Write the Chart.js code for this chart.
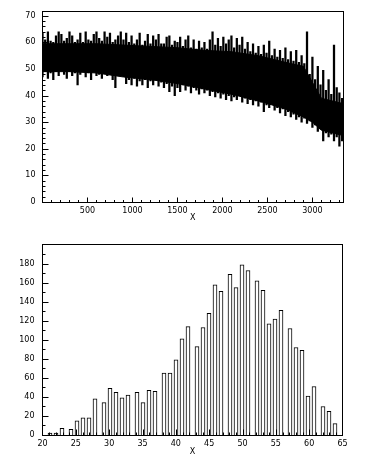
<!DOCTYPE html>
<html lang="en">
<head>
<meta charset="UTF-8">
<title>Graph and histogram of X</title>
<style>
  html, body { margin: 0; padding: 0; background: #fff; }
  #wrap { position: relative; width: 387px; height: 465px; }
  canvas { position: absolute; left: 0; }
  #graphCanvas { top: 0; }
  #histCanvas { top: 232px; }
</style>
</head>
<body>
<div id="wrap">
  <canvas id="graphCanvas" width="387" height="232"></canvas>
  <canvas id="histCanvas" width="387" height="233"></canvas>
</div>
<script src="https://cdn.jsdelivr.net/npm/chart.js"></script>
<script>
// Top graph: the trace is far too dense to read point by point, so it is kept as
// the solid core of the band plus the highest / lowest excursions, read every 30 units
const graphX = [
  0, 30, 60, 90, 120, 150, 180, 210, 240, 270,
  300, 330, 360, 390, 420, 450, 480, 510, 540, 570,
  600, 630, 660, 690, 720, 750, 780, 810, 840, 870,
  900, 930, 960, 990, 1020, 1050, 1080, 1110, 1140, 1170,
  1200, 1230, 1260, 1290, 1320, 1350, 1380, 1410, 1440, 1470,
  1500, 1530, 1560, 1590, 1620, 1650, 1680, 1710, 1740, 1770,
  1800, 1830, 1860, 1890, 1920, 1950, 1980, 2010, 2040, 2070,
  2100, 2130, 2160, 2190, 2220, 2250, 2280, 2310, 2340, 2370,
  2400, 2430, 2460, 2490, 2520, 2550, 2580, 2610, 2640, 2670,
  2700, 2730, 2760, 2790, 2820, 2850, 2880, 2910, 2940, 2970,
  3000, 3030, 3060, 3090, 3120, 3150, 3180, 3210, 3240, 3270,
  3300, 3330
];
const graphHigh = [
  63.5, 61, 64, 60.5, 60, 62.5, 64, 63, 60.5, 61.5,
  64, 62.5, 60, 61, 63.5, 60, 64, 61, 60.5, 63,
  64, 61.5, 60.5, 64, 62, 63.5, 60, 61, 62.5, 64,
  61, 63.5, 60, 62.5, 59.5, 61, 63.5, 59, 60.5, 63,
  59.5, 62.5, 61, 63, 59.5, 59.5, 62, 62.5, 59, 60.5,
  60, 62, 58.5, 61, 62.5, 58, 61, 57.5, 60.5, 58,
  60, 57.5, 61, 64, 59, 61.5, 58.5, 62, 59.5, 61,
  62.5, 58, 61.5, 59, 62, 57.5, 60, 56.5, 59.5, 56,
  58.5, 55.5, 59, 56, 60.5, 55, 57.5, 54.5, 57, 54,
  58, 53.5, 56.5, 53, 57, 52.5, 55, 52, 64, 48,
  54.5, 46, 51, 44, 49.5, 42, 46, 40.5, 59, 43,
  41, 39
];
const graphLow = [
  47, 49, 46.5, 48.5, 46, 49, 47.5, 49.5, 48, 46.5,
  49, 47.5, 48.5, 44, 48, 49.5, 47, 48.5, 46, 49,
  47.5, 48, 46.5, 49, 47.5, 48, 46, 43, 48.5, 47.5,
  49, 44.5, 46, 44, 46.5, 43.5, 45.5, 44, 46, 43,
  45.5, 44, 46, 43.5, 45, 43, 44.5, 41.5, 43.5, 40,
  43, 41.5, 44, 42, 43.5, 41, 43, 42, 40.5, 42.5,
  41, 42, 40, 41.5, 39.5, 41, 39, 40.5, 38.5, 40,
  38, 39.5, 38.5, 40, 37.5, 39, 37, 38.5, 36.5, 38,
  36, 37.5, 34, 36.5, 35.5, 37, 34.5, 35.5, 33.5, 35,
  32.5, 34, 32, 33, 31, 32, 30, 31.5, 29.5, 30.5,
  28, 29, 26.5, 27.5, 23, 26, 24.5, 25.5, 23, 24.5,
  21, 23
];
// solid core of the band
const coreX = [0, 300, 600, 900, 1200, 1500, 1800, 2100, 2400, 2700, 2900, 3000, 3100, 3340];
const coreTop = [59.5, 59.5, 59.5, 59, 58.5, 58, 57, 56.5, 55, 52.5, 51, 45, 39, 37];
const coreBottom = [49, 49, 48.5, 47, 46, 44.5, 42.5, 40.5, 38, 35, 32, 30, 27, 25];
const graphXTicks = [500, 1000, 1500, 2000, 2500, 3000];

// Bottom histogram: 100 bins from 20 to 65, contents
const histMin = 20;
const histMax = 65;
const binContent = [
  0, 0, 2, 0, 2, 0, 7, 0, 0, 6,
  0, 15, 0, 18, 0, 18, 0, 38, 0, 0,
  34, 0, 49, 0, 45, 0, 39, 0, 42, 0,
  0, 45, 0, 34, 0, 47, 0, 46, 0, 0,
  65, 0, 65, 0, 79, 0, 101, 0, 114, 0,
  0, 93, 0, 113, 0, 128, 0, 158, 0, 151,
  0, 0, 169, 0, 155, 0, 179, 0, 173, 0,
  0, 162, 0, 152, 0, 117, 0, 122, 0, 131,
  0, 0, 112, 0, 92, 0, 89, 0, 41, 0,
  51, 0, 0, 30, 0, 25, 0, 12, 0, 0
];

const labelFont = { family: 'DejaVu Sans', size: 8 };

// ROOT style frame with ticks drawn on the inside
const rootFrame = {
  id: 'rootFrame',
  afterDraw(chart, args, o) {
    const { ctx, chartArea: a, scales: { x, y } } = chart;
    const L = Math.floor(a.left) + 0.5, R = Math.floor(a.right) + 0.5;
    const T = Math.floor(a.top) + 0.5, B = Math.floor(a.bottom) + 0.5;
    ctx.save();
    ctx.strokeStyle = '#000';
    ctx.lineWidth = 1;
    ctx.strokeRect(L, T, R - L, B - T);
    ctx.beginPath();
    const nx = Math.round((x.max - x.min) / o.xMinor);
    for (let i = 1; i <= nx; i++) {
      const v = x.min + i * o.xMinor;
      if (v >= x.max) break;
      const px = Math.round(x.getPixelForValue(v)) + 0.5;
      const len = (Math.round(v) % o.xMajor === 0) ? o.xMajorLen : o.xMinorLen;
      ctx.moveTo(px, B);
      ctx.lineTo(px, B - len);
    }
    const ny = Math.round((y.max - y.min) / o.yMinor);
    for (let i = 1; i <= ny; i++) {
      const v = y.min + i * o.yMinor;
      if (v >= y.max) break;
      const py = Math.round(y.getPixelForValue(v)) + 0.5;
      const len = (Math.round(v) % o.yMajor === 0) ? o.yMajorLen : o.yMinorLen;
      ctx.moveTo(L, py);
      ctx.lineTo(L + len, py);
    }
    ctx.stroke();
    ctx.restore();
  }
};

// top: graph
new Chart(document.getElementById('graphCanvas'), {
  type: 'line',
  data: {
    datasets: [
      {
        data: coreX.map((x, i) => ({ x: x, y: coreBottom[i] })),
        borderColor: '#000',
        borderWidth: 1,
        pointRadius: 0,
        fill: false
      },
      {
        data: coreX.map((x, i) => ({ x: x, y: coreTop[i] })),
        borderColor: '#000',
        backgroundColor: '#000',
        borderWidth: 1,
        pointRadius: 0,
        fill: '-1'
      },
      {
        type: 'bar',
        data: graphX.map((x, i) => ({ x: x, y: [graphLow[i], graphHigh[i]] })),
        backgroundColor: '#000',
        borderWidth: 0,
        barThickness: 1.6
      }
    ]
  },
  options: {
    responsive: false,
    animation: false,
    devicePixelRatio: 1,
    layout: { padding: { left: 0, right: 44, top: 9, bottom: 0 } },
    plugins: {
      legend: { display: false },
      tooltip: { enabled: false },
      rootFrame: { xMinor: 100, xMajor: 500, xMajorLen: 5, xMinorLen: 2.5,
                   yMinor: 2, yMajor: 10, yMajorLen: 6, yMinorLen: 3 }
    },
    scales: {
      x: {
        type: 'linear', min: 0, max: 3340, offset: false,
        grid: { display: false, drawTicks: false },
        border: { display: false },
        afterBuildTicks(s) { s.ticks = graphXTicks.map(v => ({ value: v })); },
        ticks: { autoSkip: false, maxRotation: 0,
                 padding: 4, color: '#000', font: labelFont,
                 callback: v => String(v) },
        title: { display: true, text: 'X', color: '#000', font: labelFont,
                 padding: { top: 0, bottom: 9 } },
        afterFit(s) { s.height = 30; }
      },
      y: {
        min: 0, max: 71.5,
        grid: { display: false, drawTicks: false },
        border: { display: false },
        ticks: { stepSize: 10, includeBounds: false, padding: 7, color: '#000', font: labelFont },
        afterFit(s) { s.width = 42.5; }
      }
    }
  },
  plugins: [rootFrame]
});

// bottom: histogram
const binWidth = (histMax - histMin) / binContent.length;
const histBars = [];
binContent.forEach((c, k) => {
  if (c > 0) histBars.push({ x: histMin + binWidth * (k + 0.5), y: c });
});

new Chart(document.getElementById('histCanvas'), {
  type: 'bar',
  data: {
    datasets: [{
      data: histBars,
      backgroundColor: '#fff',
      borderColor: '#000',
      borderWidth: 1,
      borderSkipped: 'start',
      barThickness: 4
    }]
  },
  options: {
    responsive: false,
    animation: false,
    devicePixelRatio: 1,
    layout: { padding: { left: 0, right: 44.5, top: 9, bottom: 0 } },
    plugins: {
      legend: { display: false },
      tooltip: { enabled: false },
      rootFrame: { xMinor: 1, xMajor: 5, xMajorLen: 6, xMinorLen: 3,
                   yMinor: 10, yMajor: 20, yMajorLen: 6, yMinorLen: 3 }
    },
    scales: {
      x: {
        type: 'linear', min: histMin, max: histMax, offset: false,
        grid: { display: false, drawTicks: false },
        border: { display: false },
        ticks: { stepSize: 5, autoSkip: false, maxRotation: 0,
                 padding: 4, color: '#000', font: labelFont },
        title: { display: true, text: 'X', color: '#000', font: labelFont,
                 padding: { top: 0, bottom: 8 } },
        afterFit(s) { s.height = 30; }
      },
      y: {
        min: 0, max: 200,
        grid: { display: false, drawTicks: false },
        border: { display: false },
        ticks: { stepSize: 20, padding: 8, color: '#000', font: labelFont,
                 callback: v => (v >= 200 ? '' : v) },
        afterFit(s) { s.width = 42.5; }
      }
    }
  },
  plugins: [rootFrame]
});
</script>
</body>
</html>
